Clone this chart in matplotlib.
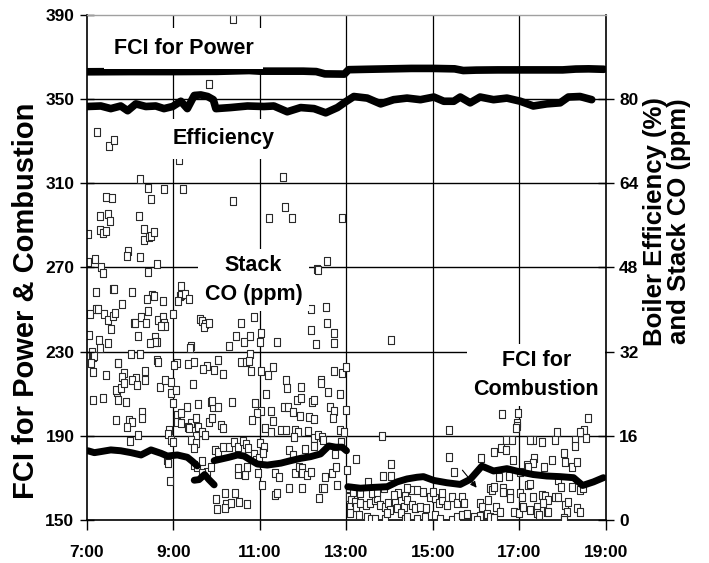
import numpy as np
import matplotlib
matplotlib.use("Agg")
import matplotlib.pyplot as plt

plt.rcParams['font.family'] = ['Liberation Sans', 'DejaVu Sans']
plt.rcParams['font.weight'] = 'bold'

# ---------------- data ----------------
x_ticks = [7, 9, 11, 13, 15, 17, 19]
x_tick_labels = ['7:00', '9:00', '11:00', '13:00', '15:00', '17:00', '19:00']
left_ticks = [150, 190, 230, 270, 310, 350, 390]
right_ticks = [0, 16, 32, 48, 64, 80]

power_t = [7.0, 8.0, 9.0, 10.0, 10.75, 11.0, 12.0, 12.3, 12.5, 12.95, 13.05, 13.5, 14.0, 14.5,
           15.0, 15.5, 15.7, 16.0, 16.5, 17.0, 17.5, 18.0, 18.3, 18.6, 18.95]
power_v = [363.0, 363.1, 363.1, 363.2, 363.6, 363.3, 363.3, 363.1, 362.0, 361.9, 364.0, 364.2, 364.4, 364.6,
           364.6, 364.4, 363.6, 363.8, 363.9, 363.9, 363.9, 363.9, 364.3, 364.4, 364.2]

eff_t = [7.0, 7.32, 7.55, 7.78, 7.94, 8.13, 8.36, 8.59, 8.78, 8.98, 9.17, 9.32, 9.48, 9.63, 9.79, 9.92,
         9.98, 10.32, 10.71, 11.09, 11.32, 11.63, 11.94, 12.25, 12.52, 12.79, 13.0, 13.17, 13.48, 13.79,
         14.09, 14.40, 14.71, 15.02, 15.25, 15.48, 15.63, 15.86, 16.09, 16.40, 16.71, 17.02, 17.32, 17.63,
         17.94, 18.13, 18.40, 18.67]
eff_v = [78.6, 78.7, 78.2, 78.7, 77.8, 79.1, 78.6, 78.7, 78.2, 78.6, 79.6, 78.2, 80.7, 80.8, 80.5, 79.9,
         78.2, 78.4, 78.7, 78.6, 78.7, 77.6, 78.4, 78.2, 77.4, 78.4, 79.6, 80.5, 80.2, 79.1,
         79.9, 80.2, 79.9, 80.4, 79.6, 79.6, 80.4, 79.3, 80.4, 79.9, 80.2, 79.6, 78.7, 79.1,
         79.3, 80.4, 80.5, 79.9]

comb_t = [7.02, 7.17, 7.32, 7.55, 7.78, 8.02, 8.25, 8.48, 8.71, 8.86, 9.09, 9.32, 9.44, 9.55, None,
          9.48, 9.59, 9.72, 9.82, 9.94, None,
          9.94, 10.09, 10.28, 10.48, 10.63, 10.78, 10.94, 11.17, 11.48, 11.71, 11.94, 12.17, 12.40,
          12.59, 12.75, 12.90, 13.0, None,
          13.03, 13.32, 13.63, 13.94, 14.17, 14.40, 14.63, 14.78, 15.02, 15.32, 15.63, 15.86, 16.13,
          16.40, 16.71, 17.02, 17.32, 17.63, 17.94, 18.25, 18.46, 18.71, 18.94]
comb_v = [182.9, 182.0, 182.5, 183.3, 182.9, 182.0, 180.9, 183.3, 181.7, 180.4, 180.9, 179.8, 177.8, 175.7, None,
          168.9, 169.2, 171.6, 169.2, 166.7, None,
          178.2, 178.9, 179.8, 180.9, 180.4, 178.5, 176.6, 176.1, 177.0, 178.2, 179.3, 180.1, 181.4,
          185.2, 184.6, 184.6, 182.9, None,
          165.8, 165.1, 165.5, 165.8, 168.1, 169.5, 170.3, 170.6, 168.8, 167.7, 166.9, 169.3, 175.6,
          173.3, 174.4, 172.8, 171.6, 170.9, 170.6, 170.1, 166.4, 168.1, 170.1]

stack_co = [
    (10.38, 95.2), (9.81, 82.8), (7.23, 73.8), (7.51, 71.1), (7.63, 72.2), (9.12, 68.4), (8.22, 64.8),
    (8.40, 63.1), (8.78, 62.9), (9.21, 62.9), (7.44, 61.4), (7.57, 61.3), (8.48, 61.1), (11.54, 65.2),
    (10.38, 60.6), (11.21, 57.5), (7.30, 57.8), (7.49, 58.1), (7.53, 56.9), (8.21, 57.8), (7.03, 54.3),
    (7.31, 55.1), (7.36, 54.5), (7.44, 55.0), (8.31, 55.3), (8.32, 53.3), (8.44, 53.8), (8.49, 54.0),
    (8.55, 54.7), (7.94, 51.2), (7.92, 50.2), (8.23, 50.0), (7.19, 49.7), (7.03, 49.1), (7.32, 48.0),
    (7.37, 46.9), (8.63, 48.6), (8.42, 47.1), (7.20, 43.3), (7.59, 43.9), (7.63, 44.0), (8.04, 43.3),
    (8.51, 42.8), (8.54, 42.6), (8.38, 42.1), (8.75, 41.6), (9.18, 44.5), (9.15, 42.6), (9.17, 42.7),
    (9.27, 42.9), (9.36, 42.0), (9.11, 41.7), (7.80, 41.0), (7.21, 40.2), (7.25, 40.2), (7.08, 39.1),
    (7.40, 39.1), (7.48, 38.0), (7.61, 38.8), (7.65, 39.4), (7.55, 36.4), (8.09, 37.4), (8.11, 37.5),
    (8.25, 38.6), (8.37, 37.5), (8.42, 39.7), (8.65, 38.0), (8.75, 38.5), (8.77, 37.5), (8.80, 36.9),
    (8.71, 36.9), (8.98, 39.1), (7.05, 35.2), (7.27, 34.2), (7.49, 33.6), (8.18, 35.0), (8.58, 34.7),
    (8.63, 33.9), (8.57, 33.8), (8.46, 33.6), (9.61, 38.3), (9.65, 37.9), (9.73, 37.2), (9.71, 36.7),
    (9.82, 37.4), (10.55, 37.4), (10.86, 38.6), (11.02, 35.5), (10.45, 35.0), (10.78, 35.0),
    (10.62, 33.8), (10.99, 33.8), (11.40, 33.8), (10.28, 33.1), (9.40, 33.1), (9.38, 32.7), (7.30, 32.6),
    (7.12, 32.0), (7.11, 31.2), (7.13, 30.9), (7.17, 31.2), (8.02, 31.5), (8.23, 31.6), (10.77, 31.5),
    (7.09, 29.8), (7.71, 29.9), (7.72, 29.8), (8.62, 30.4), (8.65, 30.1), (9.09, 29.8), (9.01, 29.5),
    (9.34, 29.6), (9.48, 30.1), (9.77, 29.3), (9.69, 28.7), (9.94, 28.6), (10.02, 30.4), (10.14, 27.7),
    (10.55, 30.1), (10.67, 30.1), (10.75, 30.3), (11.29, 29.0), (11.19, 27.6), (11.02, 28.3),
    (10.80, 28.3), (7.13, 28.1), (7.45, 27.6), (7.85, 28.0), (7.82, 27.2), (8.13, 27.0), (8.35, 28.4),
    (8.04, 26.6),
    (7.15, 22.9), (7.38, 23.1), (7.69, 24.3), (7.67, 24.7), (7.78, 25.0), (7.86, 26.0), (8.15, 25.7),
    (7.71, 22.9), (7.90, 22.5), (8.35, 26.6), (8.69, 25.3), (8.80, 26.6), (8.95, 24.2), (8.95, 26.3),
    (9.05, 24.7), (9.46, 25.8), (9.86, 22.5), (9.92, 21.5), (10.02, 21.5), (9.90, 22.7), (9.57, 22.0),
    (9.31, 21.5), (9.00, 22.3), (10.36, 22.5), (8.28, 20.5), (8.28, 19.3), (7.67, 19.0), (7.98, 19.1),
    (8.05, 18.6), (7.92, 17.6), (8.17, 16.2), (8.00, 15.1), (8.90, 17.2), (8.88, 16.3), (8.94, 15.2),
    (8.98, 14.9), (9.08, 19.95), (9.07, 18.7), (9.17, 18.5), (9.17, 20.3), (9.40, 18.4), (9.34, 17.7),
    (9.36, 17.4), (9.52, 19.3), (9.52, 16.0), (9.57, 17.7), (9.65, 16.8), (9.73, 16.2), (9.82, 18.7),
    (9.88, 19.3), (10.09, 18.1), (10.15, 17.4), (9.40, 15.2), (9.52, 14.6), (9.48, 13.6), (8.85, 11.4),
    (8.88, 10.8), (8.92, 7.5), (9.48, 10.5), (9.55, 10.1), (9.65, 11.3), (9.78, 9.2), (9.65, 8.9),
    (9.86, 10.0), (9.96, 13.3), (10.02, 13.0), (10.28, 13.8), (10.40, 14.9), (10.49, 13.8),
    (10.61, 15.1), (10.67, 14.4), (10.72, 13.6), (10.15, 13.9), (10.48, 8.7), (10.65, 8.55),
    (10.48, 9.8), (10.69, 10.1), (10.18, 5.2), (9.98, 3.9), (10.00, 2.1), (10.22, 3.0), (10.19, 2.3),
    (10.34, 3.2), (10.42, 5.1), (10.51, 3.5), (10.69, 3.0), (10.85, 12.5), (10.91, 11.4), (10.98, 11.8),
    (11.00, 14.6), (11.09, 13.9), (11.08, 12.7), (11.11, 17.4), (11.25, 16.8), (11.31, 18.9),
    (11.26, 20.8), (11.13, 23.9), (11.02, 20.8), (10.88, 22.2), (10.92, 20.3), (10.82, 19.0),
    (10.96, 8.9), (11.05, 6.65), (11.35, 8.9), (11.44, 8.2), (11.35, 4.75), (11.40, 5.2),
    (11.57, 59.5), (11.73, 57.5), (12.90, 57.5), (12.54, 49.2), (12.32, 47.8), (12.34, 47.5),
    (12.19, 40.2), (12.52, 40.4), (12.55, 37.5), (12.17, 36.2), (12.72, 35.5), (12.71, 33.7),
    (12.30, 33.4), (14.02, 34.2), (11.59, 26.7), (12.72, 28.4), (12.90, 27.9), (13.00, 29.0),
    (12.40, 26.6),
    (11.63, 25.0), (11.94, 25.2), (11.86, 22.9), (11.95, 23.1), (12.41, 26.1), (12.58, 24.4),
    (12.85, 23.9), (11.55, 21.5), (11.65, 21.5), (11.76, 20.5), (11.92, 19.8), (12.21, 22.5),
    (12.25, 22.8), (12.13, 19.6), (12.26, 19.2), (12.62, 21.5), (12.72, 20.8), (12.69, 19.3),
    (12.98, 20.9), (12.84, 17.2), (12.94, 16.8), (11.48, 17.1), (11.59, 17.2), (11.82, 17.1),
    (11.88, 16.8), (12.12, 17.0), (12.25, 15.5), (12.34, 16.2), (12.44, 15.8), (12.45, 15.2),
    (11.78, 15.8), (11.67, 13.3), (11.77, 12.35), (12.05, 13.4), (12.25, 14.1), (12.74, 12.5),
    (12.87, 14.9), (11.82, 8.9), (11.90, 10.1), (11.98, 9.8), (11.98, 8.9), (12.09, 8.55), (12.17, 9.2),
    (12.50, 8.2), (12.66, 8.9), (12.75, 10.1), (12.77, 6.65), (13.02, 9.5), (12.44, 6.0), (12.36, 4.1),
    (11.98, 6.1), (11.68, 6.1), (12.48, 6.1),
    (13.22, 11.5), (13.49, 7.3), (13.85, 8.4), (14.04, 8.4), (14.02, 10.6), (13.81, 16.0), (14.19, 5.2),
    (14.35, 4.6), (14.51, 5.7), (14.76, 5.4), (15.38, 17.1), (15.36, 11.9), (15.48, 9.2),
    (13.05, 4.3), (13.11, 3.8), (13.07, 2.5), (13.20, 3.5), (13.23, 2.5), (13.32, 3.2), (13.46, 2.85),
    (13.55, 3.3), (13.67, 3.8), (13.71, 4.1), (13.78, 2.85), (13.88, 2.5), (13.97, 3.2), (14.01, 1.9),
    (14.12, 3.7), (14.17, 2.2), (14.32, 2.5), (14.41, 3.8), (14.51, 2.85), (14.59, 2.2), (14.69, 2.5),
    (14.84, 2.2), (14.94, 4.4), (15.05, 4.1), (15.13, 3.2), (15.21, 3.8), (15.32, 2.85), (15.44, 4.3),
    (15.55, 3.2),
    (13.09, 1.3), (13.28, 0.95), (13.47, 0.6), (13.57, 0.1), (13.67, 0.1), (13.90, 0.1), (13.94, 1.3),
    (14.25, 1.3), (14.36, 0.1), (14.40, 0.6), (14.63, 0.1), (14.82, 0.6), (15.05, 0.95), (15.17, 0.1),
    (15.44, 0.0), (15.55, 0.6),
    (13.05, 6.0), (13.16, 5.4), (13.32, 5.1), (13.58, 5.1), (13.70, 5.4), (13.87, 6.0), (14.09, 4.75),
    (14.40, 6.0), (14.63, 5.7), (15.01, 5.4), (15.21, 5.2),
    (16.59, 20.1), (16.96, 20.3), (16.95, 18.4), (16.94, 17.9), (16.92, 17.5),
    (18.58, 19.4), (18.49, 17.2), (18.40, 16.8), (18.54, 15.5), (18.29, 15.2), (17.86, 16.8),
    (17.82, 15.2), (17.52, 14.9), (17.32, 15.2), (17.25, 15.2), (16.82, 15.2), (16.68, 15.2),
    (16.58, 13.6), (16.69, 13.3), (16.40, 12.9),
    (16.11, 11.7), (16.85, 11.4), (17.34, 11.7), (17.32, 10.9), (17.75, 11.4), (18.03, 12.7),
    (18.06, 11.1), (18.21, 10.0), (18.32, 11.1), (18.29, 14.1), (17.17, 10.5), (17.19, 10.0),
    (17.57, 10.0), (16.52, 8.1), (16.75, 8.4), (17.02, 9.2), (17.19, 6.65), (17.25, 6.8), (17.90, 7.6),
    (17.96, 6.2), (18.21, 6.3), (18.40, 5.7), (18.46, 6.0),
    (16.32, 6.0), (16.36, 5.7), (16.40, 6.2), (16.63, 6.0), (16.61, 5.4), (16.78, 5.1), (16.77, 4.1),
    (17.02, 5.1), (17.06, 4.4), (17.32, 4.4), (17.52, 4.75), (17.59, 4.55), (17.67, 3.8), (17.82, 4.4),
    (17.90, 4.3), (17.54, 3.2), (17.40, 2.5), (17.63, 1.6), (18.06, 2.85), (18.09, 1.6), (18.13, 3.5),
    (18.32, 2.2), (18.40, 1.6),
    (16.09, 3.3), (16.13, 2.5), (16.28, 3.8), (16.46, 2.5), (16.55, 1.6), (16.88, 1.6), (16.98, 1.3),
    (17.09, 2.5), (17.25, 1.9), (17.40, 1.3), (17.67, 1.6), (17.44, 0.95),
    (15.67, 0.95), (15.79, 1.1), (15.94, 0.6), (16.09, 0.8), (16.25, 1.1), (16.32, 0.6), (16.42, 0.3),
    (18.02, 0.3), (18.03, 0.0), (16.02, 0.0), (15.67, 4.4), (15.71, 3.2),
]
co_time = [p[0] for p in stack_co]
co_ppm = [p[1] for p in stack_co]

# ---------------- figure ----------------
fig = plt.figure(figsize=(7.09, 5.63), dpi=100)
rect = [0.1227, 0.0764, 0.7320, 0.8970]
axR = fig.add_axes(rect, label='right')
axL = fig.add_axes(rect, label='left', sharex=axR)
axL.patch.set_visible(False)

axR.set_xlim(7, 19)
axR.set_ylim(0, 96)
axL.set_ylim(150, 390)

# grid (right ticks 16..80 coincide with left ticks 190..350)
for v in right_ticks[1:]:
    axR.axhline(v, color='black', lw=1.0, zorder=1)
for t in x_ticks[1:-1]:
    axR.axvline(t, color='black', lw=0.9, zorder=1)

# Stack CO scatter (slightly tall open squares) and efficiency on the right scale
tall_square = [(-0.72, -1), (0.72, -1), (0.72, 1), (-0.72, 1), (-0.72, -1)]
axR.scatter(co_time, co_ppm, marker=tall_square, s=30, facecolors='white', edgecolors='#2a2a2a',
            linewidths=0.8, zorder=3)
axR.plot(eff_t, eff_v, color='black', lw=5.5, solid_capstyle='round', solid_joinstyle='round', zorder=4)

# FCI lines on left scale
axL.plot(power_t, power_v, color='black', lw=5.5, solid_capstyle='round', zorder=4)
axL.plot(np.array(comb_t, dtype=float), np.array(comb_v, dtype=float), color='black', lw=5.0,
         solid_capstyle='round', solid_joinstyle='round', zorder=4)

# ticks
axR.set_xticks(x_ticks)
axR.set_xticklabels(x_tick_labels)
axR.yaxis.tick_right()
axR.set_yticks(right_ticks)
axR.tick_params(axis='x', direction='out', length=7, width=1.0, labelsize=12.5, pad=11)
axR.tick_params(axis='y', direction='inout', length=11, width=1.0, labelsize=12.5, pad=4)
axL.set_yticks(left_ticks)
axL.yaxis.tick_left()
axL.tick_params(axis='y', direction='inout', length=10, width=1.0, labelsize=12.5, pad=4)
axL.xaxis.set_visible(False)
for lab in axR.get_xticklabels() + axR.get_yticklabels() + axL.get_yticklabels():
    lab.set_fontweight('bold')

# spines
axR.spines['left'].set_visible(False)
axR.spines['top'].set_visible(False)
axR.spines['right'].set_linewidth(1.2)
axR.spines['bottom'].set_linewidth(1.2)
axL.spines['right'].set_visible(False)
axL.spines['bottom'].set_visible(False)
axL.spines['top'].set_color('#a0a0a0')
axL.spines['top'].set_linewidth(1.0)
axL.spines['left'].set_linewidth(1.2)

# annotations with white boxes
tk = dict(fontsize=15.5, fontweight='bold', ha='center', va='center', zorder=10)
axL.text(9.24, 374.1, 'FCI for Power', bbox=dict(facecolor='white', edgecolor='none', pad=7), **tk)
axL.text(10.16, 331.1, 'Efficiency', bbox=dict(facecolor='white', edgecolor='none', pad=7), **tk)
axL.text(10.85, 264.1, 'Stack\nCO (ppm)', linespacing=1.5,
         bbox=dict(facecolor='white', edgecolor='none', pad=4.5), **tk)
axL.text(17.39, 218.9, 'FCI for\nCombustion', linespacing=1.5,
         bbox=dict(facecolor='white', edgecolor='none', pad=4.5), **tk)
axL.annotate('', xy=(16.05, 164.3), xytext=(15.64, 174.7),
             arrowprops=dict(arrowstyle='-|>', color='black', lw=0.8, mutation_scale=9), zorder=9)

# axis titles
fig.text(0.037, 0.465, 'FCI for Power & Combustion', rotation=90, ha='center', va='center',
         fontsize=21, fontweight='bold')
fig.text(0.9407, 0.607, 'Boiler Efficiency (%)\nand Stack CO (ppm)', rotation=90, ha='center',
         va='center', fontsize=18.5, fontweight='bold', multialignment='center', linespacing=1.0)

fig.savefig('out.png', dpi=100)
